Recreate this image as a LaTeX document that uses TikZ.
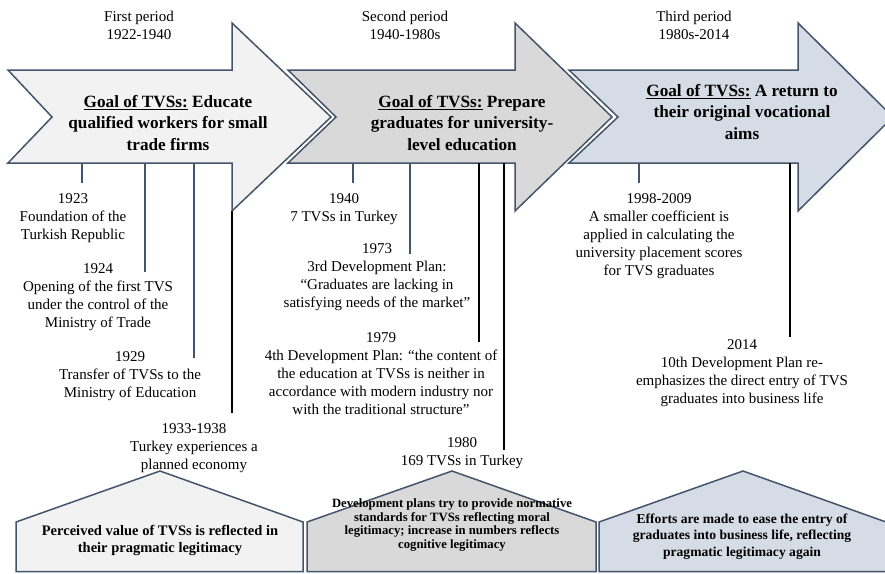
\documentclass[tikz,border=0pt]{standalone}
\usepackage{fontspec}
\setmainfont{Liberation Serif}
\definecolor{slate}{HTML}{44546A}
\definecolor{fillA}{HTML}{F2F2F2}
\definecolor{fillB}{HTML}{D9D9D9}
\definecolor{fillC}{HTML}{D6DCE5}
\tikzset{
  shapeline/.style={draw=slate, line width=1.5pt, line join=miter},
  evtext/.style={align=center, inner sep=0pt, font=\fontsize{15}{18}\selectfont},
  goaltext/.style={align=center, inner sep=0pt, font=\bfseries\fontsize{17.2}{21.5}\selectfont},
  conn/.style={draw=slate, line width=1.1pt},
  connk/.style={draw=black, line width=1.1pt},
}
\begin{document}
\begin{tikzpicture}[x=1pt,y=-1pt]
\useasboundingbox (0,0) rectangle (885,573);
\begin{scope}
\clip (0,0) rectangle (885,573);
% arrows
\path[shapeline, fill=fillC] (569,70) -- (798,70) -- (798,23) -- (893,117) -- (798,211) -- (798,163) -- (569,163) -- (618,117) -- cycle;
\path[shapeline, fill=fillB] (288,70) -- (515,70) -- (515,23) -- (612,117) -- (515,211) -- (515,163) -- (288,163) -- (336,117) -- cycle;
\path[shapeline, fill=fillA] (8,70) -- (232,70) -- (232,23) -- (331,117) -- (232,211) -- (232,163) -- (8,163) -- (52,117) -- cycle;
% pentagons
\path[shapeline, fill=fillA] (16,571.5) -- (16,522) -- (160,471) -- (303,522) -- (303,571.5) -- cycle;
\path[shapeline, fill=fillB] (307,571.5) -- (307,522) -- (452,471) -- (596,522) -- (596,571.5) -- cycle;
\path[shapeline, fill=fillC] (599,571.5) -- (599,522) -- (743,471) -- (886,522) -- (886,571.5) -- cycle;
\end{scope}

% headers
\node[evtext] (h1) at (139,25) {First period\\1922-1940};
\node[evtext] (h2) at (405,25) {Second period\\1940-1980s};
\node[evtext] (h3) at (694,25) {Third period\\1980s-2014};

% goals
\node[goaltext] (g1) at (168,123) {\underline{Goal of TVSs:} Educate\\qualified workers for small\\trade firms};
\node[goaltext] (g2) at (462,123) {\underline{Goal of TVSs:} Prepare\\graduates for university-\\level education};
\node[goaltext] (g3) at (742,112) {\underline{Goal of TVSs:} A return to\\their original vocational\\aims};

% events
\node[evtext] (e1923) at (73,218) {1923\\Foundation of the\\Turkish Republic};
\node[evtext] (e1924) at (98,297) {1924\\Opening of the first TVS\\under the control of the\\Ministry of Trade};
\node[evtext] (e1929) at (130,376) {1929\\Transfer of TVSs to the\\Ministry of Education};
\node[evtext] (e1933) at (194,448.5) {1933-1938\\Turkey experiences a\\planned economy};
\node[evtext] (e1940) at (344,209.5) {1940\\7 TVSs in Turkey};
\node[evtext] (e1973) at (377,277) {1973\\3rd Development Plan:\\“Graduates are lacking in\\satisfying needs of the market”};
\node[evtext] (e1979) at (381,374) {1979\\4th Development Plan: “the content of\\the education at TVSs is neither in\\accordance with modern industry nor\\with the traditional structure”};
\node[evtext] (e1980) at (462,453) {1980\\169 TVSs in Turkey};
\node[evtext] (e1998) at (659,236) {1998-2009\\A smaller coefficient is\\applied in calculating the\\university placement scores\\for TVS graduates};
\node[evtext] (e2014) at (742,373.5) {2014\\10th Development Plan re-\\emphasizes the direct entry of TVS\\graduates into business life};

% pentagon texts
\node[align=center, inner sep=0pt, font=\bfseries\fontsize{14.5}{17}\selectfont] (p1) at (160,540.5) {Perceived value of TVSs is reflected in\\their pragmatic legitimacy};
\node[align=center, inner sep=0pt, font=\bfseries\fontsize{12.7}{13.5}\selectfont] (p2) at (452,525) {Development plans try to provide normative\\standards for TVSs reflecting moral\\legitimacy; increase in numbers reflects\\cognitive legitimacy};
\node[align=center, inner sep=0pt, font=\bfseries\fontsize{13.6}{16.5}\selectfont] (p3) at (742,536.5) {Efforts are made to ease the entry of\\graduates into business life, reflecting\\pragmatic legitimacy again};

% connectors
\coordinate (a1) at (82,163);  \coordinate (b1) at (82,183);
\coordinate (a2) at (145,163); \coordinate (b2) at (145,272);
\coordinate (a3) at (194,163); \coordinate (b3) at (194,358);
\coordinate (a4) at (232,211); \coordinate (b4) at (232,413);
\coordinate (a5) at (353,163); \coordinate (b5) at (353,183);
\coordinate (a6) at (410,163); \coordinate (b6) at (410,254);
\coordinate (a7) at (479,163); \coordinate (b7) at (479,342);
\coordinate (a8) at (504,163); \coordinate (b8) at (504,450);
\coordinate (a9) at (639,163); \coordinate (b9) at (639,183);
\coordinate (a10) at (790,163); \coordinate (b10) at (790,337);
\draw[conn] (a1) -- (b1);
\draw[conn] (a2) -- (b2);
\draw[conn] (a3) -- (b3);
\draw[connk] (a4) -- (b4);
\draw[conn] (a5) -- (b5);
\draw[conn] (a6) -- (b6);
\draw[connk] (a7) -- (b7);
\draw[connk] (a8) -- (b8);
\draw[conn] (a9) -- (b9);
\draw[connk] (a10) -- (b10);
\end{tikzpicture}
\end{document}
